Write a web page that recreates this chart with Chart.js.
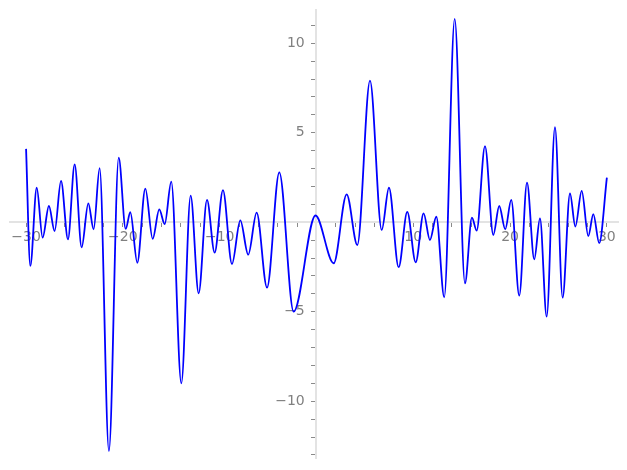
<!DOCTYPE html>
<html>
<head>
<meta charset="utf-8">
<script src="https://cdn.jsdelivr.net/npm/chart.js@4"></script>
<style>
  html, body { margin: 0; padding: 0; background: #fff; }
  #wrap { width: 627px; height: 470px; }
</style>
</head>
<body>
<div id="wrap"><canvas id="plot"></canvas></div>
<script>
// ── Data: turning points of the curve ────────────────────────────
const xs = [
  -30.0, -29.56, -28.9, -28.29, -27.64, -27.05, -26.39, -25.67, -24.98, -24.26,
  -23.57, -23.02, -22.4, -21.44, -20.43, -19.71, -19.23, -18.51, -17.68, -16.92,
  -16.24, -15.68, -15.0, -13.96, -13.0, -12.17, -11.31, -10.52, -9.66, -8.73,
  -7.87, -7.05, -6.18, -5.11, -3.84, -2.36, -0.1, 1.78, 3.12, 4.22,
  5.53, 6.74, 7.49, 8.49, 9.38, 10.25, 11.07, 11.72, 12.38, 13.2,
  14.28, 15.34, 16.06, 16.55, 17.41, 18.27, 18.88, 19.5, 20.12, 20.95,
  21.75, 22.5, 23.09, 23.78, 24.64, 25.43, 26.19, 26.74, 27.4, 28.08,
  28.6, 29.21, 30.0,
];
const ys = [
  4.1, -2.44, 1.93, -0.86, 0.91, -0.49, 2.31, -0.95, 3.24, -1.4,
  1.06, -0.39, 3.02, -12.78, 3.61, -0.37, 0.56, -2.26, 1.88, -0.93,
  0.72, -0.1, 2.27, -9.0, 1.49, -3.97, 1.25, -1.7, 1.8, -2.33,
  0.11, -1.81, 0.54, -3.65, 2.79, -4.99, 0.38, -2.29, 1.56, -1.27,
  7.91, -0.43, 1.93, -2.51, 0.58, -2.24, 0.5, -0.99, 0.31, -4.19,
  11.36, -3.41, 0.26, -0.47, 4.26, -0.71, 0.91, -0.39, 1.25, -4.1,
  2.21, -2.07, 0.22, -5.27, 5.31, -4.21, 1.62, -0.24, 1.75, -0.77,
  0.46, -1.17, 2.49,
];

const xLabels = [-30, -20, -10, 10, 20, 30];
const yLabels = [-10, -5, 5, 10];

const AXIS = "#e3e3e3";
const TICK = "#8a8a8a";
const TEXT = "#808080";

const fmt = v => (v < 0 ? "\u2212" + Math.abs(v) : String(v));

new Chart(document.getElementById("plot").getContext("2d"), {
  type: "line",
  data: {
    datasets: [{
      data: xs.map((x, i) => ({ x, y: ys[i] })),
      borderColor: "#0000ff",
      borderWidth: 1.8,
      pointRadius: 0,
      fill: false,
      cubicInterpolationMode: "monotone",
    }],
  },
  options: {
    responsive: true,
    maintainAspectRatio: false,
    animation: false,
    layout: { padding: { left: 10, right: 9, top: 10, bottom: 12 } },
    plugins: { legend: { display: false }, tooltip: { enabled: false } },
    scales: {
      x: {
        type: "linear",
        position: { y: 0 },
        min: -31.66,
        max: 31.15,
        border: { display: true, color: AXIS, width: 2 },
        grid: { drawOnChartArea: false, drawTicks: true, tickLength: 4, tickColor: TICK, tickWidth: 1 },
        ticks: {
          stepSize: 2,
          includeBounds: false,
          autoSkip: false,
          maxRotation: 0,
          padding: 3,
          color: TEXT,
          font: { family: "DejaVu Sans", size: 14 },
          callback: v => (xLabels.includes(v) ? fmt(v) : ""),
        },
      },
      y: {
        type: "linear",
        position: { x: 0 },
        min: -13.17,
        max: 11.86,
        // labels sit on the axis itself, so they need no room at the ends
        afterFit: s => { s.paddingTop = 0; s.paddingBottom = 0; },
        border: { display: true, color: AXIS, width: 2 },
        grid: { drawOnChartArea: false, drawTicks: true, tickLength: 4, tickColor: TICK, tickWidth: 1 },
        ticks: {
          stepSize: 1,
          includeBounds: false,
          autoSkip: false,
          padding: 3,
          color: TEXT,
          font: { family: "DejaVu Sans", size: 14 },
          // right-aligned on the axis line: trailing spaces keep the gap
          callback: v => (yLabels.includes(v) ? fmt(v) + "  \u2009" : ""),
        },
      },
    },
  },
});
</script>
</body>
</html>
